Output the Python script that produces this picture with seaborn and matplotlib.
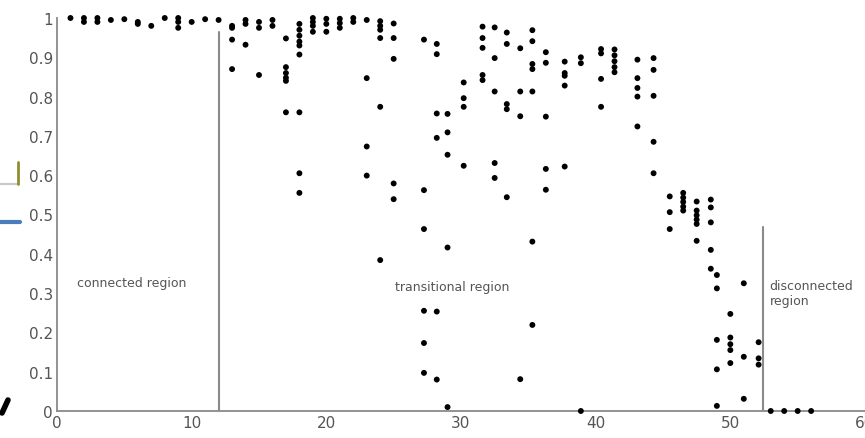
import numpy as np
import pandas as pd
import matplotlib
matplotlib.use("Agg")
import matplotlib.pyplot as plt
from matplotlib.lines import Line2D
import seaborn as sns

# ---------------- data ----------------
connected_x = [1, 2, 2, 3, 3, 4, 5, 6, 6, 7, 8, 9, 9, 9, 10, 11, 12]
connected_y = [1.0, 1.0, 0.99, 1.0, 0.99, 0.995, 0.997, 0.99, 0.985, 0.98,
               1.0, 1.0, 0.99, 0.975, 0.99, 0.997, 0.995]

transitional_x = (
    [13] * 4 + [14] * 3 + [15] * 3 + [16] * 2 + [17] * 6 + [18] * 9 +
    [19] * 4 + [20] * 3 + [21] * 3 + [22] * 2 + [23] * 4 + [24] * 6 +
    [25] * 5 + [27.25] * 6 + [28.2] * 6 + [29.0] * 5 + [30.2] * 4 +
    [31.6] * 5 + [32.5] * 5 + [33.4] * 5 + [34.4] * 4 + [35.3] * 7 +
    [36.3] * 5 + [37.7] * 5 + [38.9] * 3 + [40.4] * 4 + [41.4] * 5 +
    [43.1] * 5 + [44.3] * 5 + [45.5] * 3 + [46.5] * 5 + [47.5] * 6 +
    [48.55] * 5 + [49.0] * 5 + [50.0] * 5 + [51.0] * 3 + [52.1] * 3
)
transitional_y = [
    0.98, 0.975, 0.945, 0.87,
    0.995, 0.985, 0.932,
    0.99, 0.975, 0.855,
    0.995, 0.98,
    0.948, 0.875, 0.86, 0.848, 0.84, 0.76,
    0.985, 0.97, 0.955, 0.94, 0.93, 0.907, 0.76, 0.605, 0.555,
    1.0, 0.99, 0.98, 0.965,
    0.998, 0.985, 0.965,
    0.998, 0.987, 0.975,
    1.0, 0.99,
    0.995, 0.847, 0.673, 0.599,
    0.992, 0.98, 0.97, 0.949, 0.774, 0.384,
    0.986, 0.949, 0.896, 0.579, 0.539,
    0.945, 0.562, 0.463, 0.255, 0.173, 0.097,
    0.934, 0.908, 0.757, 0.695, 0.253, 0.08,
    0.756, 0.709, 0.652, 0.416, 0.01,
    0.836, 0.796, 0.774, 0.624,
    0.978, 0.949, 0.924, 0.855, 0.842,
    0.976, 0.898, 0.813, 0.631, 0.593,
    0.963, 0.934, 0.781, 0.768, 0.544,
    0.923, 0.813, 0.75, 0.081,
    0.969, 0.941, 0.883, 0.87, 0.813, 0.431, 0.219,
    0.913, 0.886, 0.749, 0.616, 0.563,
    0.889, 0.86, 0.853, 0.828, 0.622,
    0.9, 0.885, 0.0,
    0.921, 0.91, 0.845, 0.774,
    0.92, 0.905, 0.89, 0.875, 0.862,
    0.894, 0.847, 0.822, 0.8, 0.724,
    0.898, 0.868, 0.802, 0.685, 0.605,
    0.546, 0.506, 0.463,
    0.555, 0.543, 0.532, 0.52, 0.51,
    0.533, 0.51, 0.498, 0.487, 0.476, 0.433,
    0.538, 0.518, 0.48, 0.41, 0.362,
    0.346, 0.312, 0.181, 0.106, 0.013,
    0.247, 0.187, 0.17, 0.155, 0.122,
    0.325, 0.138, 0.031,
    0.175, 0.134, 0.118,
]

disconnected_x = [53, 54, 55, 56]
disconnected_y = [0.0, 0.0, 0.0, 0.0]

boundary_x = [12, 52.4]
boundary_top = [0.965, 0.467]

region_labels = ["connected region", "transitional region", "disconnected\nregion"]
region_label_x = [1.5, 25.1, 52.9]
region_label_y = [0.327, 0.316, 0.30]

x_ticks = [0, 10, 20, 30, 40, 50, 60]
y_ticks = [0, 0.1, 0.2, 0.3, 0.4, 0.5, 0.6, 0.7, 0.8, 0.9, 1]
y_tick_labels = ["0", "0.1", "0.2", "0.3", "0.4", "0.5", "0.6", "0.7", "0.8", "0.9", "1"]

# ---------------- figure ----------------
sns.set_theme(style="white")
plt.rcParams["font.family"] = ["DejaVu Sans"]

df = pd.DataFrame({
    "x": connected_x + transitional_x + disconnected_x,
    "y": connected_y + transitional_y + disconnected_y,
})

fig = plt.figure(figsize=(8.65, 4.39), dpi=100)
ax = fig.add_axes([57 / 865, 27 / 439, 808 / 865, 393 / 439])

sns.scatterplot(data=df, x="x", y="y", ax=ax, color="black", s=18,
                marker="o", edgecolor="none", clip_on=False, zorder=3)

for bx, bt in zip(boundary_x, boundary_top):
    ax.plot([bx, bx], [0, bt], color="#8a8a8a", lw=1.5, zorder=2)

for lab, lx, ly in zip(region_labels, region_label_x, region_label_y):
    ax.text(lx, ly, lab, fontsize=9, color="#555555", ha="left", va="center",
            linespacing=1.2)

ax.set_xlim(0, 60)
ax.set_ylim(0, 1)
ax.set_xticks(x_ticks)
ax.set_xticklabels([str(t) for t in x_ticks])
ax.set_yticks(y_ticks)
ax.set_yticklabels(y_tick_labels)
ax.set_xlabel("")
ax.set_ylabel("")
ax.tick_params(direction="in", length=4, width=1, color="#8a8a8a",
               labelsize=11, labelcolor="#555555", pad=3)
for side in ["top", "right"]:
    ax.spines[side].set_visible(False)
for side in ["left", "bottom"]:
    ax.spines[side].set_color("#8a8a8a")
    ax.spines[side].set_linewidth(1.3)

# slide artifacts on the left edge
def fpx(px, py):
    return px / 865, 1 - py / 439

x0, y0 = fpx(0, 185); x1, y1 = fpx(19, 185)
fig.add_artist(Line2D([x0, x1], [y0, y1], color="#c8c8c8", lw=1.5))
x0, y0 = fpx(18, 163); x1, y1 = fpx(18, 185)
fig.add_artist(Line2D([x0, x1], [y0, y1], color="#8f8f30", lw=2))
x0, y0 = fpx(0, 223); x1, y1 = fpx(20, 223)
fig.add_artist(Line2D([x0, x1], [y0, y1], color="#4a7ebb", lw=3))
x0, y0 = fpx(8, 401); x1, y1 = fpx(2, 414)
fig.add_artist(Line2D([x0, x1], [y0, y1], color="black", lw=4))

fig.savefig("out.png", dpi=100)
